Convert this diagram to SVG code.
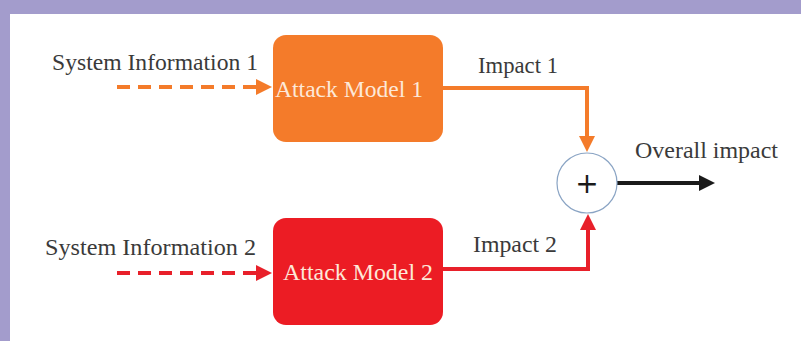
<svg xmlns="http://www.w3.org/2000/svg" width="801" height="341" viewBox="0 0 801 341">
<defs>
<style>
.lbl{font-family:"Liberation Serif","Times New Roman",serif;font-size:23.5px;fill:#3a3a3a}
.box{font-family:"Liberation Serif","Times New Roman",serif;font-size:23.5px;fill:#fde8d8}
</style>
<marker id="ao" markerWidth="4" markerHeight="4" refX="3" refY="2" orient="auto" markerUnits="strokeWidth"><path d="M0,0 L4,2 L0,4 Z" fill="#f47b2a"/></marker>
<marker id="ar" markerWidth="4" markerHeight="4" refX="3" refY="2" orient="auto" markerUnits="strokeWidth"><path d="M0,0 L4,2 L0,4 Z" fill="#e8202a"/></marker>
<marker id="ak" markerWidth="4" markerHeight="4" refX="3" refY="2" orient="auto" markerUnits="strokeWidth"><path d="M0,0 L4,2 L0,4 Z" fill="#1a1a1a"/></marker>
</defs>
<rect x="0" y="0" width="801" height="341" fill="#a39ccc"/>
<rect x="10" y="14" width="791" height="327" fill="#ffffff"/>
<g id="connectors" fill="none" stroke-width="4">
<path d="M117,87 H268" stroke="#f47b2a" stroke-dasharray="13,8" marker-end="url(#ao)"/>
<path d="M117,273 H268" stroke="#e8202a" stroke-dasharray="13,8" marker-end="url(#ar)"/>
<path d="M443,88 H587 V148" stroke="#f47b2a" marker-end="url(#ao)"/>
<path d="M443,269 H588 V218" stroke="#e8202a" marker-end="url(#ar)"/>
<path d="M617,183 H711" stroke="#1a1a1a" marker-end="url(#ak)"/>
</g>
<g id="sysinfo1"><text class="lbl" x="52" y="70" textLength="206" lengthAdjust="spacingAndGlyphs">System Information 1</text></g>
<g id="sysinfo2"><text class="lbl" x="45" y="255" textLength="211" lengthAdjust="spacingAndGlyphs">System Information 2</text></g>
<g id="model1">
<rect x="273" y="35" width="170" height="107" rx="13" fill="#f47b2a"/>
<text class="box" x="275" y="97" textLength="148" lengthAdjust="spacingAndGlyphs">Attack Model 1</text>
</g>
<g id="model2">
<rect x="273" y="218" width="170" height="107" rx="13" fill="#ec1c24"/>
<text class="box" x="283" y="280" textLength="150" lengthAdjust="spacingAndGlyphs">Attack Model 2</text>
</g>
<g id="impact1"><text class="lbl" x="478" y="73" textLength="80" lengthAdjust="spacingAndGlyphs">Impact 1</text></g>
<g id="impact2"><text class="lbl" x="473" y="252" textLength="84" lengthAdjust="spacingAndGlyphs">Impact 2</text></g>
<g id="sum">
<circle cx="587" cy="183" r="30" fill="#ffffff" stroke="#8aa4c4" stroke-width="1.2"/>
<text x="587" y="193" text-anchor="middle" style="font-family:'DejaVu Sans',sans-serif;font-size:28px;fill:#1a1a1a">+</text>
</g>
<g id="overall"><text class="lbl" x="635" y="158" textLength="143" lengthAdjust="spacingAndGlyphs">Overall impact</text></g>
</svg>
